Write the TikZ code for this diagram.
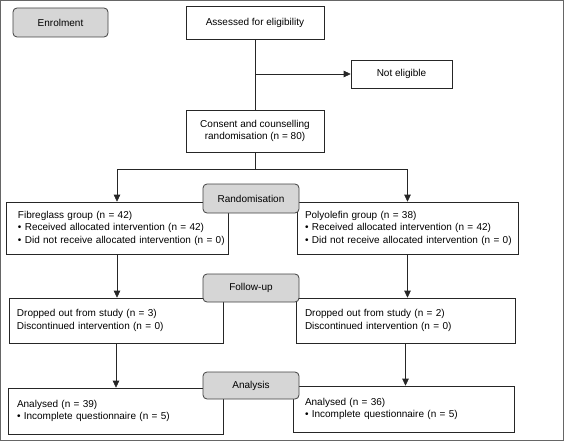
\documentclass[tikz,border=0pt]{standalone}
\usepackage{fontspec}
\setmainfont{Liberation Sans}
\usetikzlibrary{arrows.meta,positioning,calc}

\tikzset{
    stage/.style={draw=black!75, fill=black!16, rounded corners=4pt, line width=0.8pt,
        minimum width=96pt},
    plain/.style={draw=black!85, line width=0.6pt, align=center},
    group/.style={draw=black!85, line width=0.6pt, align=left, inner xsep=3pt},
    indent/.style={execute at begin node={\leftskip=#1}},
    link/.style={black!85, line width=0.6pt},
    arrow/.style={link, -{Triangle[length=7pt,width=6.5pt]}}
}

\begin{document}
\begin{tikzpicture}[x=1pt,y=-1pt,font=\fontsize{10}{12.5}\selectfont]
    % Frame
    \useasboundingbox (0,0) rectangle (564,441);
    \draw[black!60, line width=1.3pt] (0.65,0.65) rectangle (563.35,440.35);

    % Enrolment
    \node[plain, minimum width=138pt, minimum height=33pt] (assess) at (255,22.5) {Assessed for eligibility};
    \node[plain, minimum width=101pt, minimum height=28pt] (noelig) at (401.5,74) {Not eligible};
    \node[plain, minimum width=138pt, minimum height=42pt] (consent) at (255,131) {Consent and counselling\\randomisation (n = 80)};

    % Groups
    \node[group, indent=9pt, text width=216pt, minimum height=52pt] (fibre) at (117,228)
        {Fibreglass group (n = 42)\\\textbullet\ Received allocated intervention (n = 42)\\\textbullet\ Did not receive allocated intervention (n = 0)};
    \node[group, indent=5pt, text width=215pt, minimum height=52pt] (poly) at (407.5,228)
        {Polyolefin group (n = 38)\\\textbullet\ Received allocated intervention (n = 42)\\\textbullet\ Did not receive allocated intervention (n = 0)};

    % Follow-up
    \node[group, indent=5pt, text width=208pt, minimum height=45pt] (dropL) at (116,320.5)
        {Dropped out from study (n = 3)\\Discontinued intervention (n = 0)};
    \node[group, indent=6pt, text width=213pt, minimum height=45pt] (dropR) at (405.5,320.5)
        {Dropped out from study (n = 2)\\Discontinued intervention (n = 0)};

    % Analysis
    \node[group, indent=6pt, text width=209pt, minimum height=46pt] (anaL) at (115.5,411)
        {Analysed (n = 39)\\\textbullet\ Incomplete questionnaire (n = 5)};
    \node[group, indent=9pt, text width=215pt, minimum height=46pt] (anaR) at (403.5,409)
        {Analysed (n = 36)\\\textbullet\ Incomplete questionnaire (n = 5)};

    % Stage labels
    \node[stage, minimum width=95pt, minimum height=29pt] (enrol) at (60.5,22.5) {Enrolment};
    \node[stage, minimum height=29pt] (random) at (251,198.5) {Randomisation};
    \node[stage, minimum height=28pt] (follow) at (251,288) {Follow-up};
    \node[stage, minimum height=27pt] (analysis) at (251,385.5) {Analysis};

    % Connections
    \coordinate (split) at (assess.south |- noelig.west);
    \coordinate (fork) at ($(consent.south)+(0,17)$);
    \draw[link] (assess) -- (consent);
    \draw[arrow] (split) -- (noelig);
    \draw[link] (consent) -- (fork);
    \draw[arrow] (fork) -| (fibre.north);
    \draw[arrow] (fork) -| (poly.north);
    \draw[arrow] (fibre) -- (fibre.south |- dropL.north);
    \draw[arrow] (poly) -- (poly.south |- dropR.north);
    \draw[arrow] (dropL) -- (dropL.south |- anaL.north);
    \draw[arrow] (dropR) -- (dropR.south |- anaR.north);
\end{tikzpicture}
\end{document}
